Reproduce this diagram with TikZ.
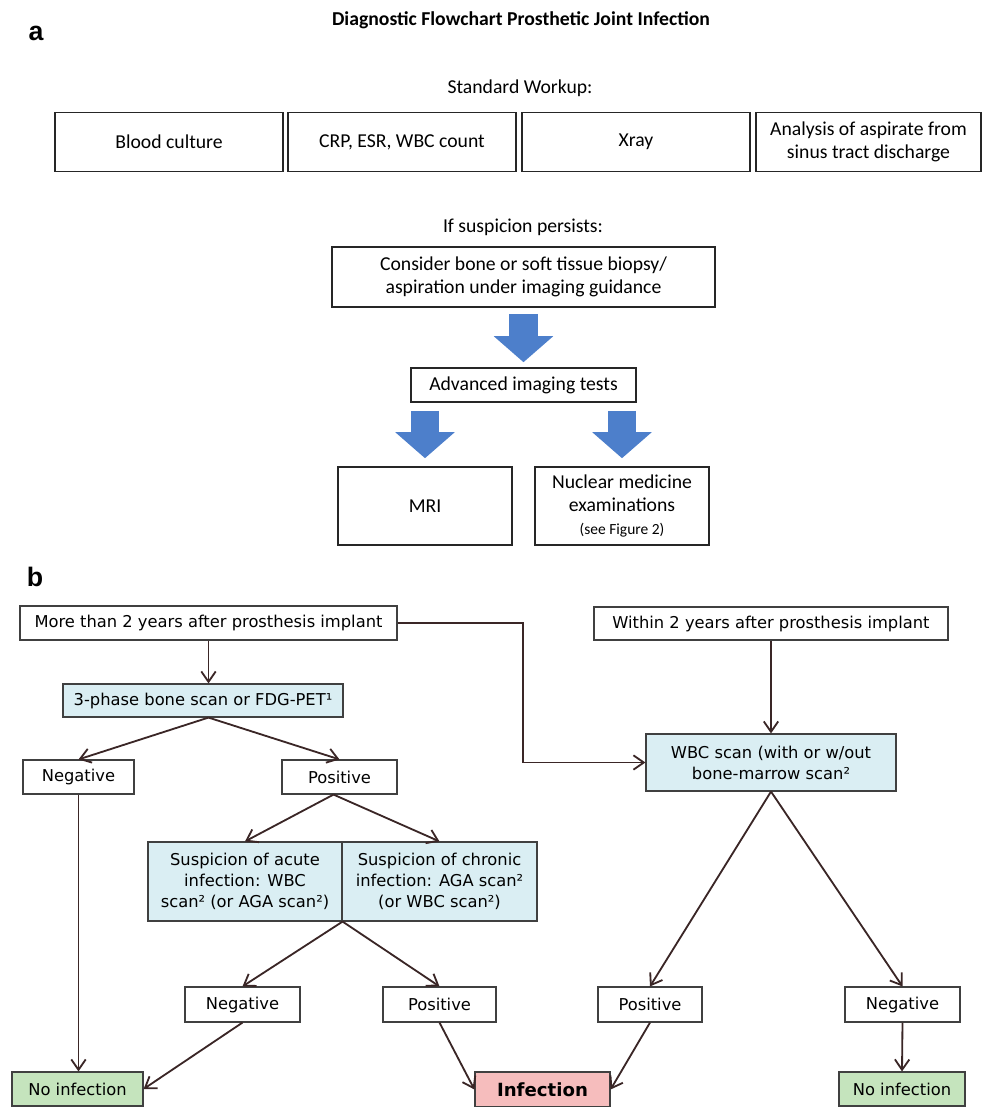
\documentclass[tikz,border=0pt]{standalone}
\usepackage{fontspec}
\setmainfont{Carlito}
\newfontfamily\flowfont{DejaVu Sans}
\newfontfamily\panelfont{Liberation Sans}
\usetikzlibrary{arrows.meta}
\definecolor{scanblue}{HTML}{DAEEF3}
\definecolor{okgreen}{HTML}{C5E4BD}
\definecolor{badred}{HTML}{F6BDBD}
\definecolor{blockblue}{HTML}{4D7FCB}
\definecolor{linebrown}{HTML}{3A2626}

\begin{document}
\begin{tikzpicture}[x=0.025cm, y=-0.025cm,
        work/.style={rectangle, draw=black!85, line width=1.1pt, minimum width=5.7cm, minimum height=1.475cm, align=center, inner sep=2pt, font=\fontsize{14}{16.3}\selectfont},
        heading/.style={font=\fontsize{14}{16.3}\selectfont},
        bigarrow/.style={draw=blockblue, line width=0.72cm, -{Triangle[length=0.65cm, width=1.45cm]}},
        flow/.style={rectangle, draw=black!75, line width=0.8pt, fill=white, align=center, inner sep=1pt, minimum height=0.85cm, font=\flowfont\fontsize{11.6}{15}\selectfont},
        scan/.style={flow, fill=scanblue},
        arrow/.style={-{Straight Barb[length=2.6mm, width=3.6mm]}, draw=linebrown, line width=1.3pt},
        panel/.style={font=\panelfont\bfseries\fontsize{19}{22}\selectfont}
    ]
    \useasboundingbox (0,0) rectangle (982,1107);

        % Panel a: standard workup
        \node[panel] (pa) at (36,33) {a};
        \node[font=\bfseries\fontsize{14}{16}\selectfont] (title) at (521,20) {Diagnostic Flowchart Prosthetic Joint Infection};
        \node[heading] (std) at (520,88) {Standard Workup:};
        \node[work] (blood) at (169,142) {Blood culture};
        \node[work] (crp) at (402,142) {CRP, ESR, WBC count};
        \node[work] (xray) at (636,142) {Xray};
        \node[work, minimum width=5.625cm] (sinus) at (868.5,142) {Analysis of aspirate from\\sinus tract discharge};

        % If suspicion persists
        \node[heading] (persist) at (523,227) {If suspicion persists:};
        \node[work, minimum width=9.575cm, minimum height=1.5cm] (biopsy) at (523.5,277) {Consider bone or soft tissue biopsy/\\aspiration under imaging guidance};
        \node[work, minimum width=5.625cm, minimum height=0.85cm] (imaging) at (523.5,385) {Advanced imaging tests};
        \node[work, minimum width=4.35cm, minimum height=1.95cm] (mri) at (425,506) {MRI};
        \node[work, minimum width=4.35cm, minimum height=1.95cm] (nuclear) at (622,506) {Nuclear medicine\\examinations\\{\fontsize{11}{12.5}\selectfont (see Figure 2)}};

        % Block arrows
        \draw[bigarrow] ([yshift=-0.15cm]biopsy.south) -- ([yshift=0.125cm]imaging.north);
        \draw[bigarrow] ([yshift=-0.2cm]mri.north |- imaging.south) -- ([yshift=0.2cm]mri.north);
        \draw[bigarrow] ([yshift=-0.2cm]nuclear.north |- imaging.south) -- ([yshift=0.2cm]nuclear.north);

        % Panel b: time since implant
        \node[panel] (pb) at (35,577) {b};
        \node[flow, minimum width=9.425cm] (later) at (208.5,623) {More than 2 years after prosthesis implant};
        \node[flow, minimum width=8.85cm, minimum height=0.825cm] (early) at (771,623.5) {Within 2 years after prosthesis implant};
        \node[scan, minimum width=7cm, minimum height=0.825cm] (bone) at (203,700.5) {3-phase bone scan or FDG-PET¹};
        \node[scan, minimum width=6.25cm, minimum height=1.425cm] (wbc) at (771,762.5) {WBC scan (with or w/out\\bone-marrow scan²};

        % First results
        \node[flow, minimum width=2.775cm] (negA) at (78.5,777) {Negative};
        \node[flow, minimum width=2.875cm] (posA) at (339.5,777) {Positive};
        \node[scan, minimum width=4.85cm, minimum height=1.975cm] (acute) at (245,881.5) {Suspicion of acute\\infection: WBC\\scan² (or AGA scan²)};
        \node[scan, minimum width=4.875cm, minimum height=1.975cm] (chronic) at (439.5,881.5) {Suspicion of chronic\\infection: AGA scan²\\(or WBC scan²)};

        % Second results
        \node[flow, minimum width=2.875cm, minimum height=0.875cm] (negB) at (242.5,1004.5) {Negative};
        \node[flow, minimum width=2.825cm, minimum height=0.875cm] (posB) at (439.5,1004.5) {Positive};
        \node[flow, minimum width=2.6cm, minimum height=0.875cm] (posC) at (650,1004.5) {Positive};
        \node[flow, minimum width=2.875cm, minimum height=0.875cm] (negC) at (902.5,1004.5) {Negative};

        % Outcomes
        \node[flow, fill=okgreen, minimum width=3.275cm] (clearA) at (77.5,1089) {No infection};
        \node[flow, fill=badred, minimum width=3.375cm, minimum height=0.875cm, font=\flowfont\bfseries\fontsize{12.9}{15}\selectfont] (infect) at (542.5,1089.5) {Infection};
        \node[flow, fill=okgreen, minimum width=3.15cm] (clearC) at (902,1089) {No infection};

        \coordinate (boneout) at (later.south |- bone.south);
        \coordinate (split) at (acute.south east);

        % Arrows
        \draw[arrow] (later.east) -- ++(125,0) |- (wbc.west);
        \draw[arrow] (early.south) -- (wbc.north);
        \draw[arrow] (later.south) -- (later.south |- bone.north);
        \draw[arrow] (boneout) -- (negA.north);
        \draw[arrow] (boneout) -- (posA.north);
        \draw[arrow] (negA.south) -- (negA.south |- clearA.north);
        \draw[arrow] ([xshift=-0.15cm]posA.south) -- (acute.north);
        \draw[arrow] ([xshift=-0.15cm]posA.south) -- (chronic.north);
        \draw[arrow] (split) -- (negB.north);
        \draw[arrow] (split) -- (posB.north);
        \draw[arrow] (negB.south) -- (clearA.east);
        \draw[arrow] (posB.south) -- (infect.west);
        \draw[arrow] (wbc.south) -- (posC.north);
        \draw[arrow] (wbc.south) -- (negC.north);
        \draw[arrow] (posC.south) -- (infect.east);
        \draw[arrow] (negC.south) -- (clearC.north);

    \end{tikzpicture}
\end{document}
